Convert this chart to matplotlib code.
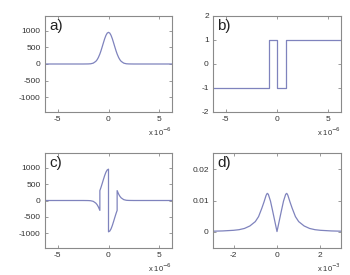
import numpy as np
import matplotlib.pyplot as plt

plt.rcParams['font.family'] = ['Liberation Sans', 'DejaVu Sans']
plt.rcParams['axes.unicode_minus'] = False

# a) gaussian pulse (x in 1e-6)
xa = [-6.3, -2.5, -2.0, -1.75, -1.5, -1.25, -1.125, -1.0, -0.85, -0.75, -0.625, -0.5, -0.375, -0.25, -0.125, 0.0,
      0.125, 0.25, 0.375, 0.5, 0.625, 0.75, 0.85, 1.0, 1.125, 1.25, 1.5, 1.75, 2.0, 2.5, 6.3]
ya = [0, 0, 2, 7, 26, 79, 126, 193, 300, 387, 510, 637, 759, 860, 927, 950,
      927, 860, 759, 637, 510, 387, 300, 193, 126, 79, 26, 7, 2, 0, 0]

# b) sign pattern
xb = [-6.3, -0.82, -0.82, 0.0, 0.0, 0.84, 0.84, 6.3]
yb = [-1, -1, 1, 1, -1, -1, 1, 1]

# c) pulse times sign pattern
xc = [-6.3, -2.5, -2.0, -1.75, -1.5, -1.25, -1.125, -1.0, -0.85, -0.85, -0.75, -0.625, -0.5, -0.375, -0.25, -0.125, 0.0,
      0.0, 0.125, 0.25, 0.375, 0.5, 0.625, 0.75, 0.85, 0.85, 1.0, 1.125, 1.25, 1.5, 1.75, 2.0, 2.5, 6.3]
yc = [0, 0, -2, -7, -26, -79, -126, -193, -300, 300, 387, 510, 637, 759, 860, 927, 950,
      -950, -927, -860, -759, -637, -510, -387, -300, 300, 193, 126, 79, 26, 7, 2, 0, 0]

# d) spectrum (x in 1e-3)
xd = [-3.0, -2.5, -2.0, -1.75, -1.5, -1.25, -1.0, -0.85, -0.7, -0.6, -0.5, -0.45, -0.4, -0.3, -0.2, -0.1, 0.0,
      0.1, 0.2, 0.3, 0.4, 0.45, 0.5, 0.6, 0.7, 0.85, 1.0, 1.25, 1.5, 1.75, 2.0, 2.5, 3.0]
yd = [0.0001, 0.0002, 0.0004, 0.0006, 0.001, 0.0018, 0.0032, 0.0048, 0.0075, 0.0095, 0.0117, 0.0123, 0.012, 0.0098, 0.0066, 0.0033, 0.0,
      0.0033, 0.0066, 0.0098, 0.012, 0.0123, 0.0117, 0.0095, 0.0075, 0.0048, 0.0032, 0.0018, 0.001, 0.0006, 0.0004, 0.0002, 0.0001]

line_col = '#7f83bd'
frame_col = '#8a8a8a'
text_col = '#333333'

fig = plt.figure(figsize=(3.5, 2.75), dpi=100)
W, H = 350.0, 275.0

def make_ax(left, top, right, bottom):
    ax = fig.add_axes([left / W, 1 - bottom / H, (right - left) / W, (bottom - top) / H])
    for s in ax.spines.values():
        s.set_color(frame_col)
        s.set_linewidth(0.8)
    ax.tick_params(direction='in', length=2, width=0.6, color=frame_col,
                   labelsize=6, labelcolor=text_col, pad=3, top=True, right=True)
    return ax

ax1 = make_ax(45, 16, 172, 112)
ax2 = make_ax(213, 16, 341, 112)
ax3 = make_ax(45, 153, 172, 248)
ax4 = make_ax(213, 153, 341, 248)

ax1.plot(xa, ya, color=line_col, lw=0.9)
ax2.plot(xb, yb, color=line_col, lw=0.9)
ax3.plot(xc, yc, color=line_col, lw=0.9)
ax4.plot(xd, yd, color=line_col, lw=0.9)

for ax in (ax1, ax3):
    ax.set_xlim(-6.25, 6.25)
    ax.set_ylim(-1440, 1440)
    ax.set_yticks([-1000, -500, 0, 500, 1000])
    ax.set_xticks([-5, 0, 5])
ax2.set_xlim(-6.25, 6.25)
ax2.set_ylim(-2, 2)
ax2.set_yticks([-2, -1, 0, 1, 2])
ax2.set_xticks([-5, 0, 5])
ax4.set_xlim(-2.95, 2.95)
ax4.set_ylim(-0.0053, 0.0253)
ax4.set_yticks([0, 0.01, 0.02])
ax4.set_yticklabels(['0', '0.01', '0.02'])
ax4.set_xticks([-2, 0, 2])

for ax, lab in zip((ax1, ax2, ax3, ax4), ('a)', 'b)', 'c)', 'd)')):
    ax.text(0.035, 0.97, lab, transform=ax.transAxes, ha='left', va='top',
            fontsize=11, color='#222222')

for ax, e in zip((ax1, ax2, ax3, ax4), ('-6', '-6', '-6', '-3')):
    ax.text(1.0, -0.27, r'x 10$^{%s}$' % e, transform=ax.transAxes, ha='right', va='bottom',
            fontsize=5.5, color=text_col)

fig.savefig('out.png', dpi=100)
